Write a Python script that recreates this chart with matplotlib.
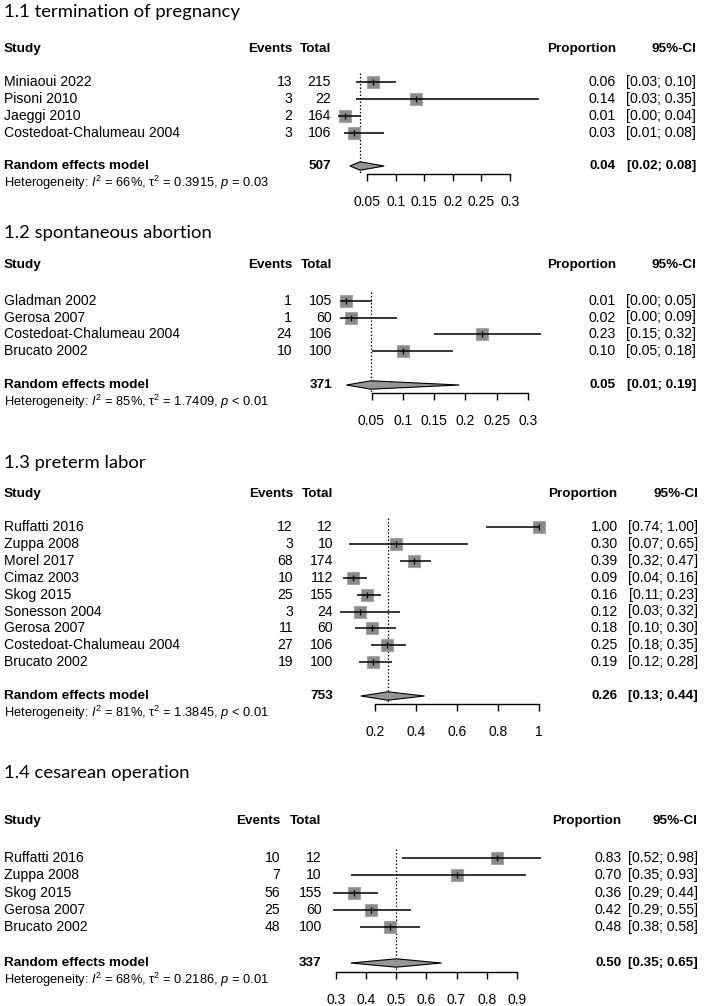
import matplotlib
matplotlib.use("Agg")
import matplotlib.pyplot as plt

W, H, DPI = 708, 1006, 100

plt.rcParams['font.family'] = ['Liberation Sans', 'DejaVu Sans']
plt.rcParams['mathtext.fontset'] = 'custom'
plt.rcParams['mathtext.rm'] = 'Liberation Sans'
plt.rcParams['mathtext.it'] = 'Liberation Sans:italic'
plt.rcParams['mathtext.bf'] = 'Liberation Sans:bold'

# ---------------- data ----------------
p1_title = "1.1 termination of pregnancy"
p1_studies = ["Miniaoui 2022", "Pisoni 2010", "Jaeggi 2010", "Costedoat-Chalumeau 2004"]
p1_events = [13, 3, 2, 3]
p1_totals = [215, 22, 164, 106]
p1_prop = [0.060, 0.136, 0.012, 0.028]
p1_lo = [0.03, 0.03, 0.00, 0.01]
p1_hi = [0.10, 0.35, 0.04, 0.08]
p1_re = (507, 0.038, 0.02, 0.08)
p1_het = ("66%", "0.3915", "= 0.03")
p1_ticks = [0.05, 0.1, 0.15, 0.2, 0.25, 0.3]
p1_ticklabels = ["0.05", "0.1", "0.15", "0.2", "0.25", "0.3"]

p2_title = "1.2 spontaneous abortion"
p2_studies = ["Gladman 2002", "Gerosa 2007", "Costedoat-Chalumeau 2004", "Brucato 2002"]
p2_events = [1, 1, 24, 10]
p2_totals = [105, 60, 106, 100]
p2_prop = [0.010, 0.017, 0.226, 0.100]
p2_lo = [0.00, 0.00, 0.15, 0.05]
p2_hi = [0.05, 0.09, 0.32, 0.18]
p2_re = (371, 0.049, 0.01, 0.19)
p2_het = ("85%", "1.7409", "< 0.01")
p2_ticks = [0.05, 0.1, 0.15, 0.2, 0.25, 0.3]
p2_ticklabels = ["0.05", "0.1", "0.15", "0.2", "0.25", "0.3"]

p3_title = "1.3 preterm labor"
p3_studies = ["Ruffatti 2016", "Zuppa 2008", "Morel 2017", "Cimaz 2003", "Skog 2015",
              "Sonesson 2004", "Gerosa 2007", "Costedoat-Chalumeau 2004", "Brucato 2002"]
p3_events = [12, 3, 68, 10, 25, 3, 11, 27, 19]
p3_totals = [12, 10, 174, 112, 155, 24, 60, 106, 100]
p3_prop = [1.000, 0.300, 0.391, 0.089, 0.161, 0.125, 0.183, 0.2547, 0.190]
p3_lo = [0.74, 0.07, 0.32, 0.04, 0.11, 0.03, 0.10, 0.18, 0.12]
p3_hi = [1.00, 0.65, 0.47, 0.16, 0.23, 0.32, 0.30, 0.35, 0.28]
p3_re = (753, 0.26, 0.13, 0.44)
p3_het = ("81%", "1.3845", "< 0.01")
p3_ticks = [0.2, 0.4, 0.6, 0.8, 1.0]
p3_ticklabels = ["0.2", "0.4", "0.6", "0.8", "1"]

p4_title = "1.4 cesarean operation"
p4_studies = ["Ruffatti 2016", "Zuppa 2008", "Skog 2015", "Gerosa 2007", "Brucato 2002"]
p4_events = [10, 7, 56, 25, 48]
p4_totals = [12, 10, 155, 60, 100]
p4_prop = [0.833, 0.700, 0.361, 0.417, 0.480]
p4_lo = [0.52, 0.35, 0.29, 0.29, 0.38]
p4_hi = [0.98, 0.93, 0.44, 0.55, 0.58]
p4_re = (337, 0.50, 0.35, 0.65)
p4_het = ("68%", "0.2186", "= 0.01")
p4_ticks = [0.3, 0.4, 0.5, 0.6, 0.7, 0.8, 0.9]
p4_ticklabels = ["0.3", "0.4", "0.5", "0.6", "0.7", "0.8", "0.9"]

# ---------------- layout (pixels) ----------------
layouts = [
    dict(title_y=11.7, header_y=49.3, first_y=82.3, step=16.9, re_y=166, het_y=183, axis_y=174,
         ev_x=292, tot_x=331, prop_x=616, ci_x=696, ref=(0.05, 367.0, 0.30, 510.0)),
    dict(title_y=233.3, header_y=265, first_y=300.7, step=16.8, re_y=385, het_y=401.7, axis_y=393,
         ev_x=292, tot_x=332, prop_x=616, ci_x=696, ref=(0.05, 371.5, 0.30, 528.0)),
    dict(title_y=463.3, header_y=494, first_y=527, step=16.9, re_y=696, het_y=713, axis_y=704,
         ev_x=293, tot_x=333, prop_x=617.5, ci_x=698, ref=(0.2, 375.3, 1.0, 539.3)),
    dict(title_y=773, header_y=820.7, first_y=858, step=17.3, re_y=963, het_y=979.5, axis_y=972,
         ev_x=280, tot_x=321.7, prop_x=621.7, ci_x=697.7, ref=(0.3, 335.7, 0.9, 517.0)),
]

panels = [
    (p1_title, p1_studies, p1_events, p1_totals, p1_prop, p1_lo, p1_hi, p1_re, p1_het, p1_ticks, p1_ticklabels),
    (p2_title, p2_studies, p2_events, p2_totals, p2_prop, p2_lo, p2_hi, p2_re, p2_het, p2_ticks, p2_ticklabels),
    (p3_title, p3_studies, p3_events, p3_totals, p3_prop, p3_lo, p3_hi, p3_re, p3_het, p3_ticks, p3_ticklabels),
    (p4_title, p4_studies, p4_events, p4_totals, p4_prop, p4_lo, p4_hi, p4_re, p4_het, p4_ticks, p4_ticklabels),
]

FS = 10.1        # regular text
FSB = 9.7        # bold text
FSH = 9.3        # heterogeneity line
TITLE_FONT = ['Lato', 'DejaVu Sans']

fig = plt.figure(figsize=(W / DPI, H / DPI), dpi=DPI)
fig.patch.set_facecolor('white')

tax = fig.add_axes([0, 0, 1, 1])
tax.set_xlim(0, W)
tax.set_ylim(H, 0)
tax.axis('off')

AX_L, AX_R = 320, 550

for (title, studies, events, totals, prop, lo, hi, re, het, ticks, ticklabels), L in zip(panels, layouts):
    # title
    tax.text(3.5, L['title_y'], title, family=TITLE_FONT, fontsize=13.3, va='center', ha='left')
    # header
    hy = L['header_y']
    bold = dict(fontsize=FSB, fontweight='bold', va='center')
    tax.text(4, hy, "Study", ha='left', **bold)
    tax.text(L['ev_x'], hy, "Events", ha='right', **bold)
    tax.text(L['tot_x'], hy, "Total", ha='right', **bold)
    tax.text(L['prop_x'], hy, "Proportion", ha='right', **bold)
    tax.text(L['ci_x'], hy, "95%-CI", ha='right', **bold)

    ys = [L['first_y'] + i * L['step'] for i in range(len(studies))]
    reg = dict(fontsize=FS, va='center')
    for y, s, e, t, p, a, b in zip(ys, studies, events, totals, prop, lo, hi):
        tax.text(4, y, s, ha='left', **reg)
        tax.text(L['ev_x'], y, f"{e}", ha='right', **reg)
        tax.text(L['tot_x'], y, f"{t}", ha='right', **reg)
        tax.text(L['prop_x'], y, f"{p:.2f}", ha='right', **reg)
        tax.text(L['ci_x'], y, f"[{a:.2f}; {b:.2f}]", ha='right', **reg)

    # summary row
    ry = L['re_y']
    n_tot, r_est, r_lo, r_hi = re
    tax.text(4, ry, "Random effects model", ha='left', **bold)
    tax.text(L['tot_x'], ry, f"{n_tot}", ha='right', **bold)
    tax.text(L['prop_x'], ry, f"{r_est:.2f}", ha='right', **bold)
    tax.text(L['ci_x'], ry, f"[{r_lo:.2f}; {r_hi:.2f}]", ha='right', **bold)
    i2, tau2, pv = het
    tax.text(4, L['het_y'], f"Heterogeneity: $I^2$ = {i2}, τ$^2$ = {tau2}, $p$ {pv}",
             fontsize=FSH, va='center', ha='left')

    # forest axes
    v1, px1, v2, px2 = L['ref']
    k = (v2 - v1) / (px2 - px1)
    ax = fig.add_axes([AX_L / W, 0, (AX_R - AX_L) / W, 1])
    ax.set_xlim(v1 + (AX_L - px1) * k, v1 + (AX_R - px1) * k)
    ax.set_ylim(H, 0)
    ax.patch.set_visible(False)
    for sp in ('top', 'left', 'right'):
        ax.spines[sp].set_visible(False)
    ax.spines['bottom'].set_position(('data', L['axis_y']))
    ax.spines['bottom'].set_bounds(ticks[0], ticks[-1])
    ax.spines['bottom'].set_linewidth(1.0)
    ax.set_xticks(ticks)
    ax.set_xticklabels(ticklabels)
    ax.tick_params(axis='x', direction='out', length=5, width=1.0, labelsize=10.0, pad=10.0)
    ax.set_yticks([])

    # reference dotted line at pooled estimate
    ax.plot([r_est, r_est], [ys[0] - 9, L['axis_y']], ls=(0, (1.2, 1.6)), color='black', lw=0.9,
            clip_on=False, zorder=1)
    # squares, CIs
    ax.plot(prop, ys, ls='none', marker='s', markersize=9.3, markerfacecolor='#8a8a8a',
            markeredgecolor='#a6a6a6', markeredgewidth=0.8, clip_on=False, zorder=2)
    for y, a, b in zip(ys, lo, hi):
        ax.plot([a, b], [y, y], color='black', lw=1.1, clip_on=False, zorder=3, solid_capstyle='butt')
    ax.plot(prop, ys, ls='none', marker='|', markersize=5, markeredgewidth=0.9, color='black',
            clip_on=False, zorder=4)
    # diamond
    hh = 4.2
    ax.fill([r_lo, r_est, r_hi, r_est], [ry, ry - hh, ry, ry + hh], facecolor='#959595',
            edgecolor='black', lw=0.8, clip_on=False, zorder=3)

fig.savefig("out.png", dpi=DPI, facecolor='white')
